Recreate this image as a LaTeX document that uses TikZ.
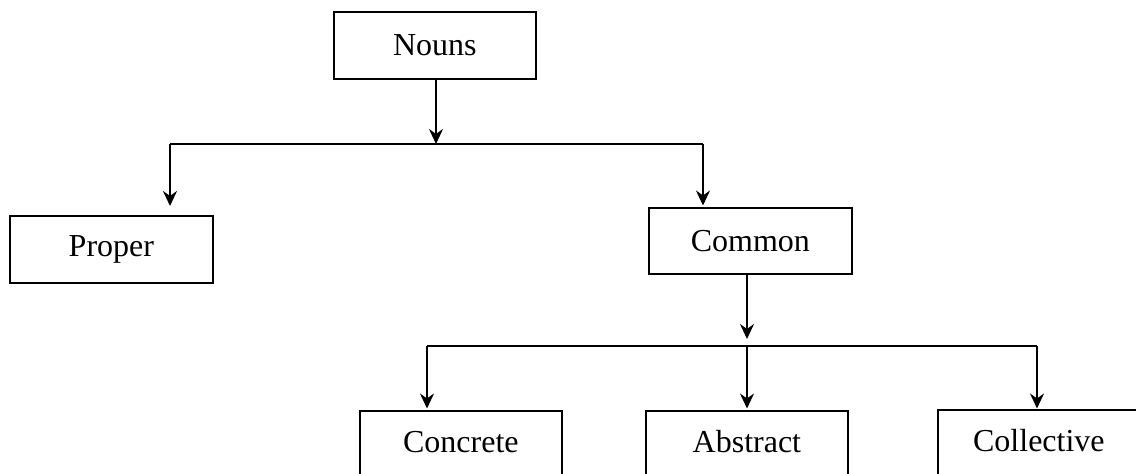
\documentclass[tikz,border=0pt]{standalone}
\usepackage{fontspec}
\setmainfont{Liberation Serif}
\usetikzlibrary{arrows.meta}
\begin{document}
\begin{tikzpicture}[x=1pt,y=-1pt,
  box/.style={draw,line width=1.8pt,rectangle,minimum width=202pt,minimum height=67pt,inner sep=0pt,font=\fontsize{32}{38}\selectfont,anchor=north west},
  lowbox/.style={box,minimum height=82pt,text height=22pt,text depth=21pt},
  conn/.style={line width=2pt},
  arr/.style={conn,-{Stealth[length=15pt,width=14pt,inset=5pt]}}]
\useasboundingbox (0,0) rectangle (1136,474);
\node[box] (nouns) at (333,11) {Nouns};
\node[box,minimum width=203pt] (proper) at (9,215) {Proper};
\node[box,minimum width=203pt,minimum height=66pt] (common) at (648,207) {Common};
\node[lowbox] (concrete) at (359,410) {Concrete};
\node[lowbox] (abstract) at (645,410) {Abstract};
\node[lowbox,minimum width=240pt] (collective) at (937,409) {Collective\kern38pt\relax};
\coordinate (j1) at (436,144);
\coordinate (j1l) at (170,144);
\coordinate (j1r) at (703,144);
\coordinate (j2) at (747,346);
\coordinate (j2l) at (427,346);
\coordinate (j2r) at (1037,346);
\draw[arr] (nouns.south -| j1) -- (j1);
\draw[conn] (j1l) -- (j1r);
\draw[arr,shorten >=9pt] (j1l) -- (j1l |- proper.north);
\draw[arr,shorten >=1.5pt] (j1r) -- (j1r |- common.north);
\draw[arr,shorten >=7pt] (common.south -| j2) -- (j2);
\draw[conn] (j2l) -- (j2r);
\draw[arr,shorten >=1.5pt] (j2l) -- (j2l |- concrete.north);
\draw[arr,shorten >=1.5pt] (j2) -- (j2 |- abstract.north);
\draw[arr,shorten >=0.5pt] (j2r) -- (j2r |- collective.north);
\end{tikzpicture}
\end{document}
